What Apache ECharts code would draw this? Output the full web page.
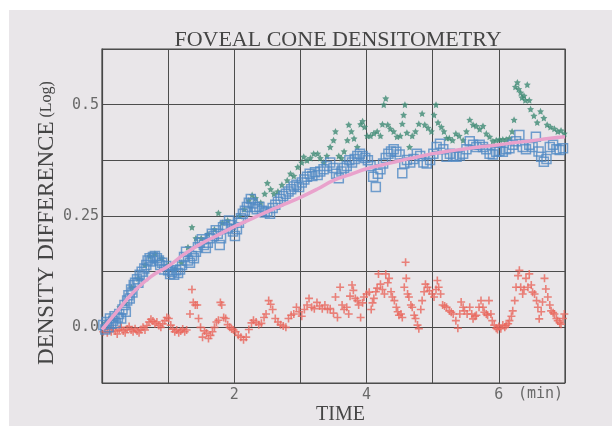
<!DOCTYPE html>
<html>
<head>
<meta charset="utf-8">
<script src="https://cdn.jsdelivr.net/npm/echarts@6/dist/echarts.min.js"></script>
<style>
    html, body { margin: 0; padding: 0; background: #fff; }
    #chart { width: 612px; height: 426px; }
</style>
</head>
<body>
<div id="chart"></div>
<script>
// time (min), density difference (log)
const xTicks = [2, 4, 6];
const yTicks = { '0': '0.0', '0.25': '0.25', '0.5': '0.5' };

const fitCurve = [
    [0, -0.005], [0.25, 0.04], [0.5, 0.083], [0.75, 0.115], [1.0, 0.137], [1.25, 0.165],
    [1.5, 0.188], [1.75, 0.207], [2.0, 0.226], [2.25, 0.243], [2.5, 0.26], [2.75, 0.276],
    [3.0, 0.292], [3.25, 0.31], [3.5, 0.33], [3.75, 0.343], [4.0, 0.356], [4.25, 0.365],
    [4.5, 0.374], [4.75, 0.382], [5.0, 0.39], [5.25, 0.396], [5.5, 0.401], [5.75, 0.406],
    [6.0, 0.41], [6.25, 0.415], [6.5, 0.419], [6.75, 0.424], [7.0, 0.428]
];

const greenStars = [
    [0.05, 0.01], [0.15, 0.02], [0.27, 0.045], [0.35, 0.055], [0.45, 0.09], [0.55, 0.11], [0.65, 0.14],
    [0.72, 0.16], [0.8, 0.165], [0.9, 0.155], [1.0, 0.14], [1.1, 0.13], [1.2, 0.145], [1.3, 0.18],
    [1.36, 0.225], [1.42, 0.2], [1.5, 0.2], [1.6, 0.21], [1.7, 0.22], [1.76, 0.257], [1.82, 0.235],
    [1.9, 0.24], [2.0, 0.23], [2.08, 0.25], [2.15, 0.265], [2.22, 0.285], [2.27, 0.297], [2.32, 0.29],
    [2.4, 0.28], [2.46, 0.3], [2.5, 0.324], [2.55, 0.31], [2.6, 0.3], [2.66, 0.305], [2.72, 0.32],
    [2.8, 0.33], [2.85, 0.345], [2.9, 0.34], [2.96, 0.36], [3.02, 0.37], [3.05, 0.383], [3.1, 0.375],
    [3.15, 0.38], [3.2, 0.39], [3.26, 0.39], [3.3, 0.38], [3.35, 0.37], [3.4, 0.385], [3.45, 0.405],
    [3.5, 0.42], [3.53, 0.44], [3.58, 0.385], [3.62, 0.38], [3.66, 0.395], [3.71, 0.42], [3.73, 0.455],
    [3.77, 0.44], [3.81, 0.424], [3.86, 0.405], [3.91, 0.456], [3.94, 0.463], [3.97, 0.45], [4.01, 0.43],
    [4.06, 0.43], [4.11, 0.436], [4.16, 0.44], [4.21, 0.43], [4.24, 0.456], [4.26, 0.5], [4.29, 0.514],
    [4.32, 0.455], [4.36, 0.446], [4.41, 0.44], [4.46, 0.428], [4.51, 0.43], [4.54, 0.457], [4.56, 0.477],
    [4.58, 0.5], [4.61, 0.437], [4.65, 0.405], [4.69, 0.43], [4.74, 0.44], [4.79, 0.457], [4.84, 0.48],
    [4.88, 0.455], [4.93, 0.448], [4.98, 0.44], [5.02, 0.477], [5.05, 0.5], [5.08, 0.46], [5.13, 0.45],
    [5.17, 0.44], [5.21, 0.425], [5.25, 0.425], [5.3, 0.42], [5.35, 0.435], [5.4, 0.43], [5.46, 0.42],
    [5.51, 0.44], [5.56, 0.466], [5.61, 0.455], [5.66, 0.452], [5.71, 0.445], [5.76, 0.452], [5.81, 0.435],
    [5.86, 0.428], [5.91, 0.418], [5.96, 0.42], [6.01, 0.422], [6.06, 0.422], [6.11, 0.422], [6.16, 0.425],
    [6.2, 0.44], [6.23, 0.466], [6.25, 0.54], [6.28, 0.55], [6.3, 0.535], [6.33, 0.527], [6.35, 0.516],
    [6.38, 0.52], [6.4, 0.51], [6.43, 0.545], [6.46, 0.51], [6.48, 0.49], [6.53, 0.475], [6.58, 0.46],
    [6.63, 0.485], [6.68, 0.47], [6.73, 0.455], [6.78, 0.45], [6.84, 0.446], [6.89, 0.44], [6.94, 0.442],
    [6.99, 0.435]
];

const blueSquares = [
    [0.02, 0.005], [0.05, -0.005], [0.07, 0.012], [0.1, 0.0], [0.12, 0.02], [0.14, 0.008], [0.17, 0.015],
    [0.19, 0.025], [0.21, 0.01], [0.24, 0.022], [0.26, 0.03], [0.29, 0.02], [0.31, 0.04], [0.34, 0.05],
    [0.36, 0.035], [0.38, 0.06], [0.4, 0.072], [0.42, 0.065], [0.44, 0.085], [0.46, 0.078], [0.48, 0.095],
    [0.5, 0.1], [0.53, 0.108], [0.55, 0.1], [0.57, 0.118], [0.6, 0.125], [0.62, 0.115], [0.64, 0.132],
    [0.67, 0.14], [0.69, 0.15], [0.72, 0.155], [0.74, 0.148], [0.77, 0.158], [0.8, 0.16], [0.83, 0.155],
    [0.86, 0.15], [0.88, 0.14], [0.91, 0.145], [0.94, 0.13], [0.97, 0.138], [1.0, 0.128], [1.03, 0.12],
    [1.06, 0.125], [1.09, 0.118], [1.12, 0.128], [1.15, 0.122], [1.18, 0.13], [1.21, 0.14], [1.24, 0.158],
    [1.27, 0.17], [1.3, 0.15], [1.33, 0.145], [1.36, 0.16], [1.39, 0.155], [1.42, 0.17], [1.45, 0.18],
    [1.48, 0.19], [1.51, 0.198], [1.54, 0.185], [1.57, 0.178], [1.6, 0.19], [1.63, 0.2], [1.66, 0.21],
    [1.69, 0.205], [1.72, 0.218], [1.75, 0.21], [1.78, 0.185], [1.8, 0.2], [1.83, 0.225], [1.86, 0.23],
    [1.89, 0.222], [1.92, 0.24], [1.95, 0.23], [1.98, 0.215], [2.01, 0.205], [2.04, 0.22], [2.07, 0.235],
    [2.1, 0.245], [2.13, 0.255], [2.16, 0.262], [2.19, 0.27], [2.22, 0.28], [2.25, 0.288], [2.28, 0.278],
    [2.31, 0.27], [2.34, 0.265], [2.38, 0.27], [2.42, 0.262], [2.46, 0.258], [2.5, 0.26], [2.54, 0.255],
    [2.58, 0.268], [2.62, 0.275], [2.66, 0.282], [2.7, 0.288], [2.74, 0.295], [2.78, 0.3], [2.82, 0.305],
    [2.86, 0.31], [2.9, 0.316], [2.94, 0.32], [2.98, 0.315], [3.02, 0.325], [3.06, 0.332], [3.1, 0.338],
    [3.14, 0.345], [3.18, 0.34], [3.22, 0.348], [3.26, 0.342], [3.3, 0.35], [3.35, 0.355], [3.4, 0.362],
    [3.45, 0.37], [3.5, 0.358], [3.54, 0.345], [3.58, 0.335], [3.62, 0.35], [3.66, 0.358], [3.7, 0.362],
    [3.74, 0.375], [3.78, 0.37], [3.82, 0.378], [3.86, 0.385], [3.9, 0.39], [3.94, 0.385], [3.98, 0.38],
    [4.02, 0.375], [4.06, 0.362], [4.1, 0.338], [4.14, 0.315], [4.17, 0.345], [4.21, 0.355], [4.25, 0.368],
    [4.29, 0.38], [4.33, 0.39], [4.37, 0.395], [4.41, 0.4], [4.45, 0.394], [4.5, 0.388], [4.54, 0.346],
    [4.57, 0.368], [4.61, 0.376], [4.66, 0.37], [4.71, 0.378], [4.76, 0.39], [4.81, 0.385], [4.86, 0.37],
    [4.91, 0.368], [4.96, 0.376], [5.01, 0.39], [5.06, 0.405], [5.11, 0.412], [5.16, 0.4], [5.21, 0.383],
    [5.26, 0.39], [5.31, 0.385], [5.36, 0.383], [5.41, 0.386], [5.46, 0.39], [5.51, 0.4], [5.56, 0.418],
    [5.61, 0.41], [5.66, 0.405], [5.71, 0.41], [5.76, 0.405], [5.81, 0.4], [5.86, 0.39], [5.91, 0.388],
    [5.96, 0.394], [6.01, 0.396], [6.06, 0.394], [6.11, 0.4], [6.16, 0.402], [6.21, 0.41], [6.26, 0.418],
    [6.31, 0.432], [6.36, 0.405], [6.41, 0.4], [6.46, 0.41], [6.51, 0.405], [6.56, 0.428], [6.6, 0.395],
    [6.64, 0.383], [6.68, 0.372], [6.72, 0.378], [6.77, 0.405], [6.82, 0.41], [6.87, 0.4], [6.92, 0.398],
    [6.97, 0.402]
];

const redPlus = [
    [0.02, -0.01], [0.05, -0.005], [0.08, -0.012], [0.11, -0.004], [0.14, -0.01], [0.17, -0.002], [0.2, -0.008],
    [0.23, -0.015], [0.26, -0.005], [0.29, 0.0], [0.32, -0.008], [0.35, -0.012], [0.38, -0.004], [0.41, 0.002],
    [0.44, -0.006], [0.47, -0.01], [0.5, -0.003], [0.53, -0.008], [0.56, -0.012], [0.59, -0.005], [0.62, 0.0],
    [0.65, -0.006], [0.68, 0.004], [0.71, 0.012], [0.74, 0.018], [0.77, 0.014], [0.8, 0.008], [0.83, 0.012],
    [0.86, 0.004], [0.89, 0.0], [0.92, 0.008], [0.95, 0.015], [0.98, 0.022], [1.01, 0.02], [1.04, 0.005],
    [1.07, -0.004], [1.1, -0.01], [1.13, -0.006], [1.16, -0.012], [1.19, -0.008], [1.22, -0.004], [1.25, -0.01],
    [1.28, -0.006], [1.33, 0.03], [1.36, 0.085], [1.38, 0.056], [1.41, 0.05], [1.44, 0.05], [1.46, 0.02],
    [1.49, 0.0], [1.52, -0.022], [1.55, -0.008], [1.58, -0.013], [1.61, -0.025], [1.64, -0.018], [1.67, -0.01],
    [1.7, 0.0], [1.73, 0.012], [1.76, 0.016], [1.79, 0.056], [1.81, 0.05], [1.84, 0.022], [1.87, 0.02],
    [1.9, 0.006], [1.93, 0.0], [1.96, -0.004], [1.99, -0.006], [2.02, -0.01], [2.06, -0.018], [2.1, -0.022],
    [2.14, -0.028], [2.18, -0.022], [2.22, -0.005], [2.26, 0.01], [2.29, 0.016], [2.33, 0.012], [2.37, 0.006],
    [2.41, 0.009], [2.45, 0.022], [2.48, 0.03], [2.52, 0.06], [2.55, 0.052], [2.58, 0.04], [2.62, 0.02],
    [2.66, 0.012], [2.7, 0.006], [2.74, 0.003], [2.78, 0.0], [2.82, 0.02], [2.86, 0.027], [2.9, 0.03],
    [2.94, 0.045], [2.98, 0.035], [3.02, 0.025], [3.06, 0.04], [3.1, 0.05], [3.13, 0.065], [3.17, 0.045],
    [3.21, 0.042], [3.25, 0.056], [3.29, 0.048], [3.33, 0.042], [3.37, 0.05], [3.41, 0.04], [3.45, 0.042],
    [3.5, 0.032], [3.53, 0.068], [3.56, 0.022], [3.6, 0.09], [3.63, 0.05], [3.66, 0.04], [3.7, 0.045],
    [3.73, 0.03], [3.75, 0.07], [3.78, 0.095], [3.8, 0.083], [3.83, 0.065], [3.86, 0.06], [3.88, 0.05],
    [3.91, 0.022], [3.94, 0.055], [3.96, 0.068], [4.0, 0.075], [4.04, 0.079], [4.07, 0.04], [4.09, 0.055],
    [4.11, 0.065], [4.14, 0.08], [4.16, 0.088], [4.18, 0.12], [4.21, 0.097], [4.24, 0.085], [4.27, 0.075],
    [4.29, 0.12], [4.32, 0.1], [4.34, 0.11], [4.37, 0.08], [4.39, 0.068], [4.42, 0.06], [4.45, 0.045],
    [4.47, 0.035], [4.49, 0.027], [4.52, 0.03], [4.54, 0.022], [4.57, 0.09], [4.59, 0.146], [4.6, 0.11],
    [4.62, 0.075], [4.64, 0.068], [4.67, 0.05], [4.69, 0.045], [4.72, 0.027], [4.74, 0.02], [4.77, 0.005],
    [4.79, -0.003], [4.82, 0.04], [4.84, 0.06], [4.87, 0.08], [4.89, 0.097], [4.92, 0.09], [4.95, 0.082],
    [4.99, 0.075], [5.02, 0.068], [5.05, 0.085], [5.07, 0.105], [5.09, 0.09], [5.12, 0.075], [5.15, 0.05],
    [5.18, 0.048], [5.21, 0.045], [5.25, 0.037], [5.28, 0.034], [5.31, 0.03], [5.35, 0.015], [5.38, -0.002],
    [5.41, 0.03], [5.43, 0.057], [5.46, 0.045], [5.48, 0.037], [5.52, 0.03], [5.56, 0.045], [5.59, 0.03],
    [5.61, 0.019], [5.64, 0.025], [5.66, 0.027], [5.7, 0.045], [5.73, 0.06], [5.76, 0.045], [5.78, 0.034],
    [5.81, 0.03], [5.83, 0.027], [5.85, 0.06], [5.88, 0.03], [5.9, 0.015], [5.93, 0.005], [5.96, -0.002],
    [5.98, -0.005], [6.0, 0.002], [6.03, -0.003], [6.06, 0.005], [6.09, 0.0], [6.11, 0.004], [6.14, 0.008],
    [6.16, 0.015], [6.19, 0.025], [6.21, 0.037], [6.24, 0.06], [6.26, 0.09], [6.29, 0.116], [6.31, 0.128],
    [6.33, 0.09], [6.36, 0.075], [6.38, 0.085], [6.41, 0.11], [6.44, 0.09], [6.46, 0.12], [6.49, 0.095],
    [6.51, 0.079], [6.54, 0.075], [6.57, 0.06], [6.59, 0.045], [6.61, 0.019], [6.64, 0.035], [6.66, 0.057],
    [6.69, 0.11], [6.71, 0.086], [6.74, 0.068], [6.77, 0.05], [6.79, 0.037], [6.82, 0.033], [6.84, 0.03],
    [6.87, 0.02], [6.89, 0.015], [6.92, 0.01], [6.94, 0.007], [6.97, 0.02], [6.99, 0.03]
];

const starPath = 'path://M0,-10L2.9,-4L9.5,-3.1L4.8,1.5L5.9,8.1L0,5L-5.9,8.1L-4.8,1.5L-9.5,-3.1L-2.9,-4Z';
const plusPath = 'path://M4,0L6,0L6,4L10,4L10,6L6,6L6,10L4,10L4,6L0,6L0,4L4,4Z';

const serif = '"Liberation Serif", "DejaVu Serif", serif';
const mono = '"DejaVu Sans Mono", monospace';

var myChart = echarts.init(document.getElementById('chart'), null, { renderer: 'canvas' });

var option = {
    backgroundColor: '#e9e6e9',
    animation: false,
    title: {
        text: 'FOVEAL CONE DENSITOMETRY',
        left: 333,
        top: 24,
        textAlign: 'center',
        textStyle: {
            fontFamily: serif,
            fontWeight: 'normal',
            fontSize: 22,
            color: '#454545',
        },
    },
    graphic: [
        { type: 'rect', z: -10, shape: { x: 0, y: 0, width: 612, height: 10 }, style: { fill: '#ffffff' } },
        { type: 'rect', z: -10, shape: { x: 0, y: 0, width: 9, height: 426 }, style: { fill: '#ffffff' } },
        {
            type: 'text', left: 518, top: 387,
            style: { text: '(min)', font: '15px "DejaVu Sans Mono", monospace', fill: '#6a6a6a' }
        },
    ],
    grid: {
        left: 102,
        right: 47,
        top: 49,
        bottom: 43,
        outerBoundsMode: 'none',
        show: true,
        borderColor: '#474747',
        borderWidth: 1.2,
        backgroundColor: 'transparent',
    },
    xAxis: {
        type: 'value',
        min: 0,
        max: 7,
        interval: 1,
        name: 'TIME',
        nameLocation: 'middle',
        nameGap: 22,
        nameMoveOverlap: false,
        nameTextStyle: {
            fontFamily: serif,
            fontSize: 20,
            color: '#454545',
            padding: [0, 0, 0, 14],
        },
        axisLine: { show: true, lineStyle: { color: '#474747', width: 1.2 } },
        axisTick: { show: false },
        splitLine: { show: true, lineStyle: { color: '#4d4d4d', width: 1 } },
        axisLabel: {
            fontFamily: mono,
            fontSize: 15,
            color: '#6a6a6a',
            margin: 5,
            formatter: (v) => xTicks.includes(v) ? String(v) : '',
        },
    },
    yAxis: {
        type: 'value',
        min: -0.125,
        max: 0.625,
        interval: 0.125,
        name: '{a|DENSITY DIFFERENCE}{b| (Log)}',
        nameLocation: 'middle',
        nameRotate: 90,
        nameGap: 44,
        nameMoveOverlap: false,
        nameTextStyle: {
            color: '#454545',
            padding: [0, 14, 0, 0],
            rich: {
                a: { fontFamily: serif, fontSize: 23, color: '#454545' },
                b: { fontFamily: serif, fontSize: 16, color: '#454545' },
            },
        },
        axisLine: { show: true, lineStyle: { color: '#474747', width: 1.2 } },
        axisTick: { show: false },
        splitLine: { show: true, lineStyle: { color: '#4d4d4d', width: 1 } },
        axisLabel: {
            fontFamily: mono,
            fontSize: 15,
            color: '#6a6a6a',
            margin: 3,
            formatter: (v) => yTicks[String(v)] || '',
        },
    },
    series: [
        {
            name: 'red',
            type: 'scatter',
            data: redPlus,
            symbol: plusPath,
            symbolSize: 8,
            itemStyle: { color: '#e8665c' },
        },
        {
            name: 'green',
            type: 'scatter',
            data: greenStars,
            symbol: starPath,
            symbolSize: 7,
            itemStyle: { color: '#3e8b74' },
        },
        {
            name: 'blue',
            type: 'scatter',
            data: blueSquares,
            symbol: 'rect',
            symbolSize: 9,
            itemStyle: { color: 'transparent', borderColor: '#5089c4', borderWidth: 1.5 },
        },
        {
            name: 'fit',
            type: 'line',
            data: fitCurve,
            smooth: true,
            showSymbol: false,
            lineStyle: { color: '#e9a2cc', width: 3.5 },
        },
    ],
};

myChart.setOption(option);
</script>
</body>
</html>
